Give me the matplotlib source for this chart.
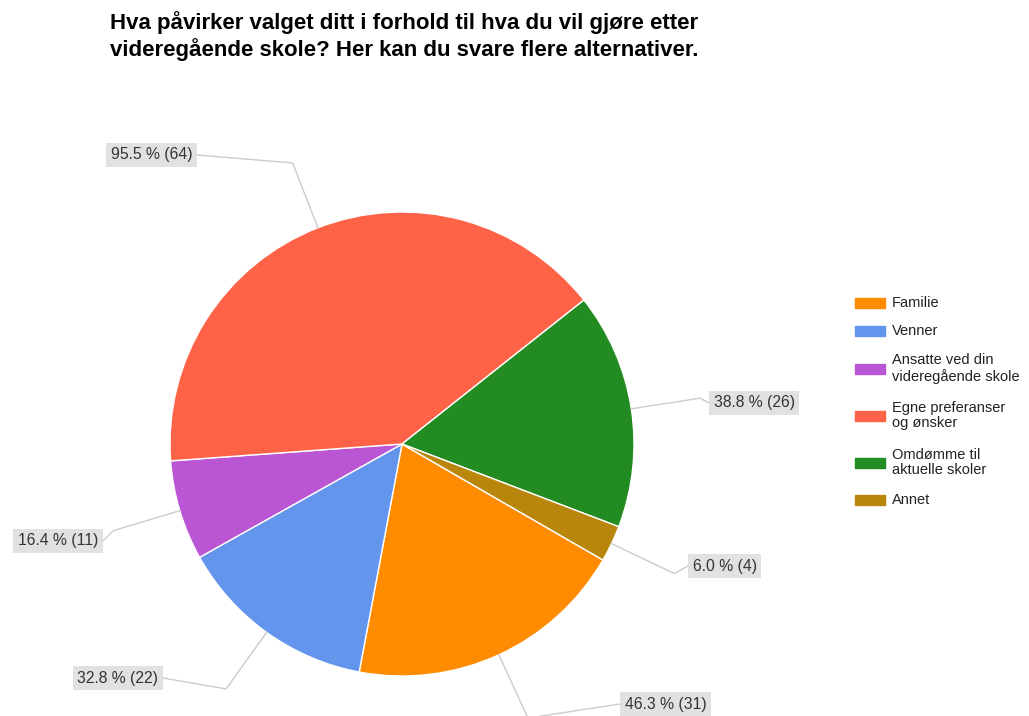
import numpy as np
import matplotlib
matplotlib.use("Agg")
import matplotlib.pyplot as plt
from matplotlib.patches import Rectangle

plt.rcParams['font.family'] = ['Liberation Sans', 'DejaVu Sans']

# data
title = "Hva påvirker valget ditt i forhold til hva du vil gjøre etter\nvideregående skole? Her kan du svare flere alternativer."
categories = ["Familie", "Venner", "Ansatte ved din\nvideregående skole",
              "Egne preferanser\nog ønsker", "Omdømme til\naktuelle skoler", "Annet"]
counts = [31, 22, 11, 64, 26, 4]
respondents = 67
colors = ["#FF8C00", "#6495ED", "#BA55D3", "#FF6347", "#228B22", "#B8860B"]

# layout (pixels, y from top)
W, H = 1029, 716
cx, cy, R = 402, 444, 232
label_edge = [(620, 704), (163, 678), (103, 541), (197, 155), (709, 403), (688, 566)]

fig = plt.figure(figsize=(W / 100, H / 100), dpi=100)
ax = fig.add_axes([0, 0, 1, 1])

def py(y):
    return H - y

ax.pie(counts, colors=colors, startangle=-30, counterclock=False,
       center=(cx, py(cy)), radius=R,
       wedgeprops=dict(edgecolor="white", linewidth=1))
ax.set_xlim(0, W)
ax.set_ylim(0, H)
ax.set_aspect("auto")
ax.axis("off")

# labels with leader lines
total = sum(counts)
fs = 11.3
pad = 0.3
pad_px = pad * fs * 100 / 72
cum = 0
for c, (ex, ey) in zip(counts, label_edge):
    ang = np.deg2rad(-30 - 360 * (cum + c / 2) / total)
    cum += c
    x0, y0 = cx + R * np.cos(ang), py(cy) + R * np.sin(ang)
    x1, y1 = cx + 1.3 * R * np.cos(ang), py(cy) + 1.3 * R * np.sin(ang)
    ax.plot([x0, x1, ex], [y0, y1, py(ey)], color="#cccccc", lw=1, zorder=1)
    left = ex < cx
    tx = ex - pad_px if left else ex + pad_px
    txt = "%.1f %% (%d)" % (100 * c / respondents, c)
    ax.text(tx, py(ey), txt, ha="right" if left else "left", va="center",
            fontsize=fs, color="#333333",
            bbox=dict(boxstyle="square,pad=%.2f" % pad, fc="#e1e1e1", ec="none"))

# legend
y = 303
prev_h = None
for lab, col in zip(categories, colors):
    n = lab.count("\n") + 1
    h = 28 + 19 * (n - 1)
    if prev_h is not None:
        y += (prev_h + h) / 2
    prev_h = h
    ax.add_patch(Rectangle((855, py(y) - 5), 30, 10, color=col))
    ax.text(892, py(y), lab, ha="left", va="center", fontsize=10.5,
            color="#222222", linespacing=1.12)

# title
ax.text(404, py(36), title, ha="center", va="center", fontsize=16,
        fontweight="bold", color="#000000", linespacing=1.22)

fig.savefig("out.png", dpi=100)
